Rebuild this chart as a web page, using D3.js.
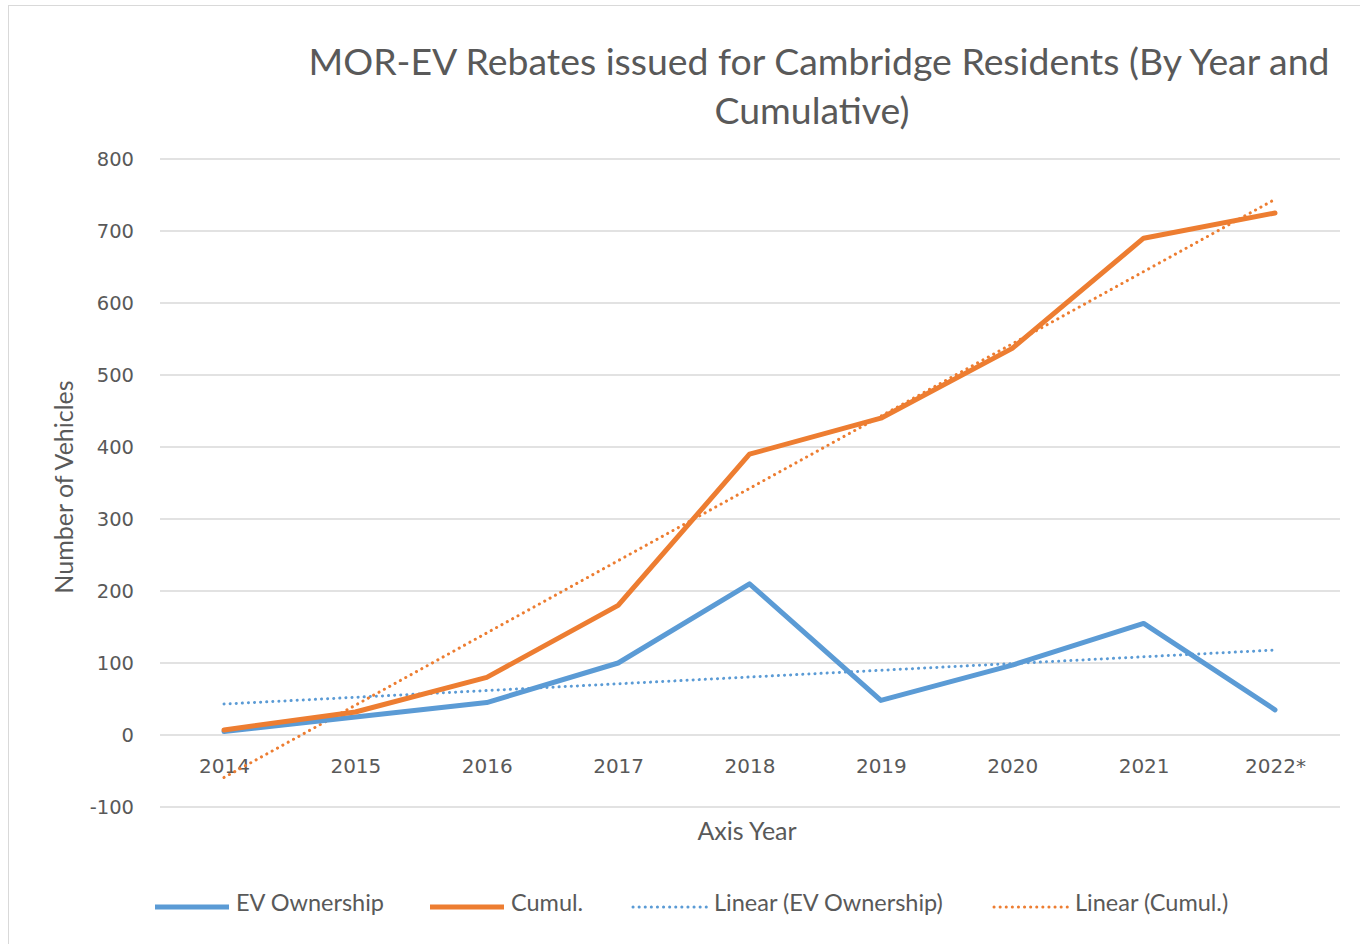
<!DOCTYPE html>
<html>
<head>
<meta charset="utf-8">
<script src="https://cdn.jsdelivr.net/npm/d3@7"></script>
<style>
  body { margin: 0; background: #fff; }
  svg { display: block; }
</style>
</head>
<body>
<script>
// values
const years = ["2014", "2015", "2016", "2017", "2018", "2019", "2020", "2021", "2022*"];
const evOwnership = [5, 25, 45, 100, 210, 48, 97, 155, 35];
const cumul = [7, 32, 80, 180, 390, 440, 537, 690, 725];
// trendline end points (first year, last year)
const trendEV = [43, 118];
const trendCumul = [-59, 744];
const yTicks = [-100, 0, 100, 200, 300, 400, 500, 600, 700, 800];

const blue = "#5B9BD5", orange = "#ED7D31";
const W = 1360, H = 944;

const svg = d3.select("body").append("svg")
  .attr("width", W).attr("height", H);

// chart border
svg.append("rect")
  .attr("x", 8.5).attr("y", 5.5).attr("width", W + 10).attr("height", H + 10)
  .attr("fill", "#fff").attr("stroke", "#d9d9d9");

// scales
var x = d3.scalePoint().domain(years).range([224, 1275]);
var y = d3.scaleLinear().domain([-100, 800]).range([807, 159]);
var gridX0 = 160, gridX1 = 1340;

// gridlines
svg.append("g").selectAll("line").data(yTicks).join("line")
  .attr("x1", gridX0).attr("x2", gridX1)
  .attr("y1", d => y(d)).attr("y2", d => y(d))
  .attr("stroke", "#d9d9d9").attr("stroke-width", 1.3);

// y axis labels
const yAxis = svg.append("g")
  .attr("transform", "translate(" + 134 + ",0)")
  .call(d3.axisLeft(y).tickValues(yTicks).tickFormat(d => String(d)).tickSize(0).tickPadding(0));
yAxis.select(".domain").remove();
yAxis.selectAll("text")
  .attr("font-family", "DejaVu Sans, sans-serif").attr("font-size", 19.5)
  .attr("fill", "#595959");

// x axis labels (sit under the zero line)
const xAxis = svg.append("g")
  .attr("transform", "translate(0," + y(0) + ")")
  .call(d3.axisBottom(x).tickSize(0).tickPadding(24));
xAxis.select(".domain").remove();
xAxis.selectAll("text")
  .attr("font-family", "DejaVu Sans, sans-serif").attr("font-size", 20)
  .attr("fill", "#595959");

// lines
var line = d3.line()
  .x((d, i) => x(years[i]))
  .y(d => y(d));

var trendLine = d3.line()
  .x((d, i) => i === 0 ? x(years[0]) : x(years[years.length - 1]))
  .y(d => y(d));

svg.append("path").datum(trendEV)
  .attr("d", trendLine).attr("fill", "none")
  .attr("stroke", blue).attr("stroke-width", 3)
  .attr("stroke-dasharray", "0.1,6").attr("stroke-linecap", "round");

svg.append("path").datum(trendCumul)
  .attr("d", trendLine).attr("fill", "none")
  .attr("stroke", orange).attr("stroke-width", 3)
  .attr("stroke-dasharray", "0.1,6").attr("stroke-linecap", "round");

svg.append("path").datum(evOwnership)
  .attr("d", line).attr("fill", "none")
  .attr("stroke", blue).attr("stroke-width", 5)
  .attr("stroke-linejoin", "round").attr("stroke-linecap", "round");

svg.append("path").datum(cumul)
  .attr("d", line).attr("fill", "none")
  .attr("stroke", orange).attr("stroke-width", 5)
  .attr("stroke-linejoin", "round").attr("stroke-linecap", "round");

// titles
const labelFont = "Lato, 'Open Sans', sans-serif";
svg.append("text")
  .attr("x", 819).attr("y", 75).attr("text-anchor", "middle")
  .attr("font-family", labelFont).attr("font-size", 37.4).attr("fill", "#595959")
  .text("MOR-EV Rebates issued for Cambridge Residents (By Year and");
svg.append("text")
  .attr("x", 812).attr("y", 124).attr("text-anchor", "middle")
  .attr("font-family", labelFont).attr("font-size", 37.4).attr("fill", "#595959")
  .text("Cumulative)");

svg.append("text")
  .attr("transform", "translate(73,487) rotate(-90)")
  .attr("text-anchor", "middle")
  .attr("font-family", labelFont).attr("font-size", 25).attr("fill", "#595959")
  .text("Number of Vehicles");

svg.append("text")
  .attr("x", 747).attr("y", 840).attr("text-anchor", "middle")
  .attr("font-family", labelFont).attr("font-size", 25).attr("fill", "#595959")
  .text("Axis Year");

// legend
const legendItems = [
  { name: "EV Ownership", color: blue, dotted: false, x: 155 },
  { name: "Cumul.", color: orange, dotted: false, x: 430 },
  { name: "Linear (EV Ownership)", color: blue, dotted: true, x: 633 },
  { name: "Linear (Cumul.)", color: orange, dotted: true, x: 994 }
];
const lg = svg.append("g").selectAll("g").data(legendItems).join("g")
  .attr("transform", d => "translate(" + d.x + ",907)");
lg.append("line")
  .attr("x1", 0).attr("x2", 74).attr("y1", 0).attr("y2", 0)
  .attr("stroke", d => d.color)
  .attr("stroke-width", d => d.dotted ? 3 : 5)
  .attr("stroke-dasharray", d => d.dotted ? "0.1,6" : null)
  .attr("stroke-linecap", d => d.dotted ? "round" : "butt");
lg.append("text")
  .attr("x", 81).attr("y", 4)
  .attr("font-family", labelFont).attr("font-size", 23.5).attr("fill", "#595959")
  .text(d => d.name);
</script>
</body>
</html>
